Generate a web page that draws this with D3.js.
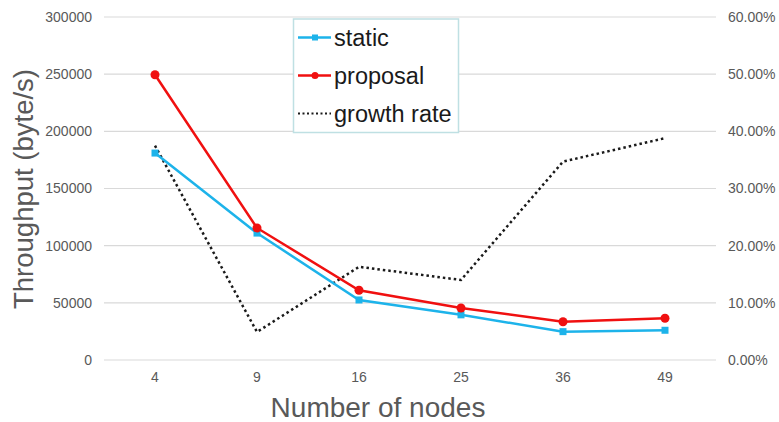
<!DOCTYPE html>
<html><head><meta charset="utf-8">
<script src="https://cdn.jsdelivr.net/npm/d3@7"></script>
<style>body{margin:0;background:#fff}svg{display:block;font-family:Arial,"Liberation Sans",sans-serif}</style>
</head><body><svg id="c" width="779" height="422"></svg>
<script>
const categories = ["4","9","16","25","36","49"];
const staticVals = [181000,111000,52500,39500,24800,26000];
const proposalVals = [249500,115500,61000,45500,33500,36500];
const growthVals = [0.375,0.049,0.163,0.14,0.347,0.388];
const leftTicks = [0,50000,100000,150000,200000,250000,300000];
const rightTicks = [0,0.1,0.2,0.3,0.4,0.5,0.6];

const svg = d3.select("#c");
const L=104, R=716, T=17, B=360;
const x = d3.scaleBand().domain(categories).range([L,R]);
const yL = d3.scaleLinear().domain([0,300000]).range([B,T]);
const yR = d3.scaleLinear().domain([0,0.6]).range([B,T]);
const cx = d => x(d)+x.bandwidth()/2;

// grid
svg.append("g").selectAll("line").data(leftTicks).join("line")
  .attr("x1",L).attr("x2",R).attr("y1",d=>yL(d)).attr("y2",d=>yL(d))
  .attr("stroke","#d9d9d9").attr("stroke-width",1.2);

// left axis labels
const gl = svg.append("g").attr("transform",`translate(${L-12},0)`)
  .call(d3.axisLeft(yL).tickValues(leftTicks).tickSize(0).tickPadding(0).tickFormat(d3.format("d")));
gl.select(".domain").remove();
gl.selectAll("text").attr("fill","#595959").style("font-size","14px");

const gr = svg.append("g").attr("transform",`translate(${R+12},0)`)
  .call(d3.axisRight(yR).tickValues(rightTicks).tickSize(0).tickPadding(0).tickFormat(d3.format(".2%")));
gr.select(".domain").remove();
gr.selectAll("text").attr("fill","#595959").style("font-size","14px");

const gx = svg.append("g").attr("transform",`translate(0,${B+10})`)
  .call(d3.axisBottom(x).tickSize(0).tickPadding(2));
gx.select(".domain").remove();
gx.selectAll("text").attr("fill","#595959").style("font-size","14px");

// titles
svg.append("text").attr("transform",`translate(33,189) rotate(-90)`).attr("text-anchor","middle")
  .attr("fill","#595959").style("font-size","27.5px").text("Throughput (byte/s)");
svg.append("text").attr("x",378).attr("y",417).attr("text-anchor","middle")
  .attr("fill","#595959").style("font-size","28px").text("Number of nodes");

const line = (ys) => d3.line().x((d,i)=>cx(categories[i])).y(d=>ys(d));
const blue="#1db3ea", red="#f01010";

// growth rate
svg.append("path").datum(growthVals).attr("d",line(yR)).attr("fill","none")
  .attr("stroke","#1a1a1a").attr("stroke-width",2.5).attr("stroke-dasharray","2.5,3");

svg.append("path").datum(staticVals).attr("d",line(yL)).attr("fill","none")
  .attr("stroke",blue).attr("stroke-width",2.5);
svg.append("g").selectAll("rect").data(staticVals).join("rect")
  .attr("x",(d,i)=>cx(categories[i])-3.5).attr("y",d=>yL(d)-3.5).attr("width",7).attr("height",7).attr("fill",blue);

svg.append("path").datum(proposalVals).attr("d",line(yL)).attr("fill","none")
  .attr("stroke",red).attr("stroke-width",2.5);
svg.append("g").selectAll("circle").data(proposalVals).join("circle")
  .attr("cx",(d,i)=>cx(categories[i])).attr("cy",d=>yL(d)).attr("r",4.5).attr("fill",red);

// legend
const lg = svg.append("g");
lg.append("rect").attr("x",293.5).attr("y",19).attr("width",165).attr("height",113.5)
  .attr("fill","#fff").attr("stroke","#bfe0e3").attr("stroke-width",1.5);
const items=[{n:"static",c:blue,t:"sq"},{n:"proposal",c:red,t:"ci"},{n:"growth rate",c:"#1a1a1a",t:"dot"}];
items.forEach((it,i)=>{
  const yy = 37.5 + i*38;
  const l = lg.append("line").attr("x1",298).attr("x2",331).attr("y1",yy).attr("y2",yy).attr("stroke",it.c)
    .attr("stroke-width",it.t==="dot"?2:2.5);
  if(it.t==="dot") l.attr("stroke-dasharray","2,2.5");
  if(it.t==="sq") lg.append("rect").attr("x",312).attr("y",yy-3).attr("width",6).attr("height",6).attr("fill",it.c);
  if(it.t==="ci") lg.append("circle").attr("cx",315).attr("cy",yy).attr("r",3.5).attr("fill",it.c);
  lg.append("text").attr("x",334).attr("y",yy+8).attr("fill","#1a1a1a").style("font-size","23.5px").text(it.n);
});
</script></body></html>
